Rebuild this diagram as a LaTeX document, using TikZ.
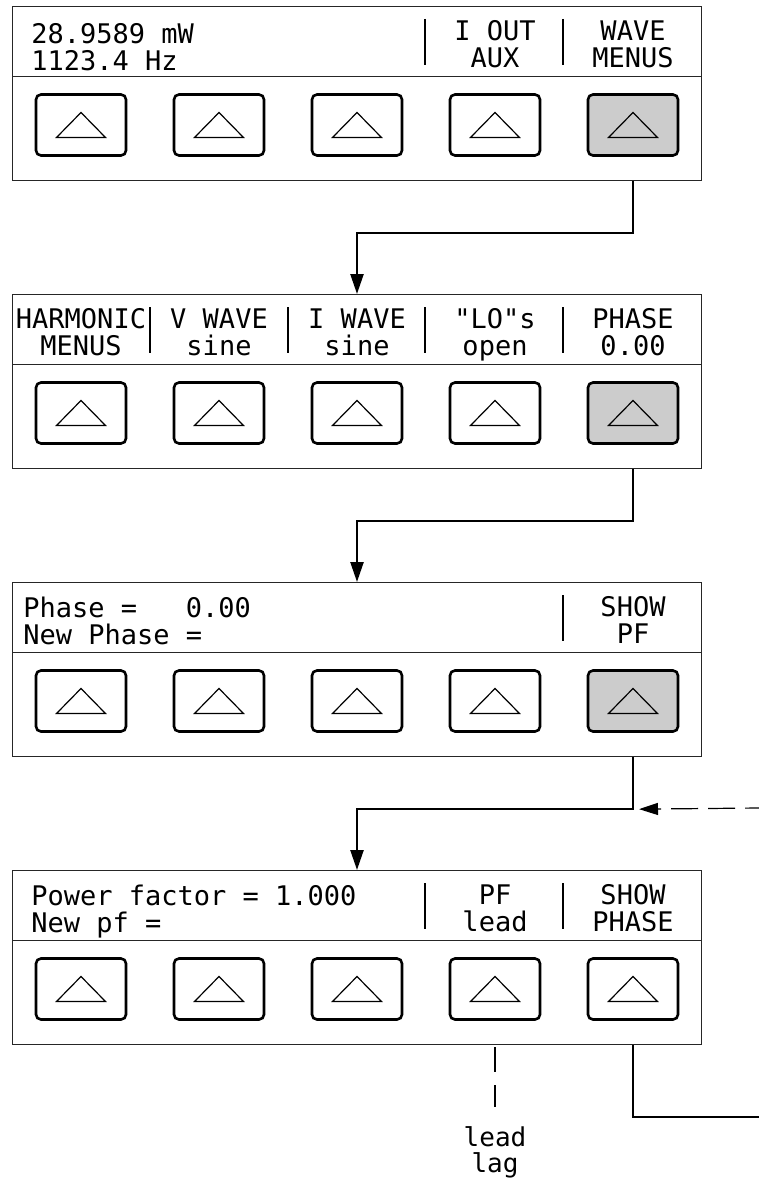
\documentclass[tikz,border=0pt]{standalone}
\usepackage{fontspec}
\newfontfamily\lcdfont{DejaVu Sans Mono}
\usetikzlibrary{arrows.meta}

\begin{document}
\begin{tikzpicture}[x=1pt, y=-1pt, node distance=138pt, thick,
    display/.style={draw=black!85, line width=1.2pt, minimum width=689pt, minimum height=70pt, inner sep=0pt},
    keypad/.style={draw=black!85, line width=1.2pt, minimum width=689pt, minimum height=104pt, inner sep=0pt},
    key/.style={draw, line width=2.6pt, rounded corners=5pt, minimum width=90pt, minimum height=61pt, inner sep=0pt,
        path picture={\draw[line width=1.2pt, sharp corners] ([shift={(-24.5,12.5)}]path picture bounding box.center) -- ++(49,0) -- ++(-24.5,-25) -- cycle;}},
    pressed/.style={key, fill=black!20},
    readout/.style={font=\lcdfont\fontsize{27pt}{27pt}\selectfont, anchor=north west, inner sep=0pt, align=left},
    softlabel/.style={font=\lcdfont\fontsize{27pt}{27pt}\selectfont, anchor=north, inner sep=0pt, align=center},
    bar/.style={line width=2.2pt},
    flow/.style={line width=2.4pt, -{Triangle[length=20pt, width=13pt]}},
    wire/.style={line width=1.2pt},
    loopback/.style={line width=1.2pt, dash pattern=on 27pt off 10pt, dash phase=13pt, shorten >=6pt, -{Triangle[length=19pt, width=12pt]}}]
    \useasboundingbox (0,0) rectangle (759,1182);

    % Panels
    \node[display, anchor=north west] (p1disp) at (12,6) {};
    \node[keypad, node distance=87pt, below of=p1disp] (p1keys) {};
    \node[display, node distance=201pt, below of=p1keys] (p2disp) {};
    \node[keypad, node distance=87pt, below of=p2disp] (p2keys) {};
    \node[display, node distance=201pt, below of=p2keys] (p3disp) {};
    \node[keypad, node distance=87pt, below of=p3disp] (p3keys) {};
    \node[display, node distance=201pt, below of=p3keys] (p4disp) {};
    \node[keypad, node distance=87pt, below of=p4disp] (p4keys) {};

    % Soft keys
    \node[key] (p1k1) at (81,125) {};
    \node[key, right of=p1k1] (p1k2) {};
    \node[key, right of=p1k2] (p1k3) {};
    \node[key, right of=p1k3] (p1k4) {};
    \node[pressed, right of=p1k4] (p1k5) {};

    \node[key] (p2k1) at (81,413) {};
    \node[key, right of=p2k1] (p2k2) {};
    \node[key, right of=p2k2] (p2k3) {};
    \node[key, right of=p2k3] (p2k4) {};
    \node[pressed, right of=p2k4] (p2k5) {};

    \node[key] (p3k1) at (81,701) {};
    \node[key, right of=p3k1] (p3k2) {};
    \node[key, right of=p3k2] (p3k3) {};
    \node[key, right of=p3k3] (p3k4) {};
    \node[pressed, right of=p3k4] (p3k5) {};

    \node[key] (p4k1) at (81,989) {};
    \node[key, right of=p4k1] (p4k2) {};
    \node[key, right of=p4k2] (p4k3) {};
    \node[key, right of=p4k3] (p4k4) {};
    \node[key, right of=p4k4] (p4k5) {};

    % Display texts
    \node[readout] (p1read) at (31,23) {28.9589 mW\\1123.4 Hz};
    \node[softlabel] (p1iout) at (495,20) {I OUT\\AUX};
    \node[softlabel] (p1wave) at (633,20) {WAVE\\MENUS};

    \node[softlabel] (p2harm) at (81,308) {HARMONIC\\MENUS};
    \node[softlabel] (p2vwave) at (219,308) {V WAVE\\sine};
    \node[softlabel] (p2iwave) at (357,308) {I WAVE\\sine};
    \node[softlabel] (p2lo) at (495,308) {"LO"s\\open};
    \node[softlabel] (p2phase) at (633,308) {PHASE\\0.00};

    \node[readout] (p3read) at (23,597) {Phase =\ \ \ 0.00\\New Phase =};
    \node[softlabel] (p3show) at (633,596) {SHOW\\PF};

    \node[readout] (p4read) at (31,885) {Power factor = 1.000\\New pf =};
    \node[softlabel] (p4pf) at (495,884) {PF\\lead};
    \node[softlabel] (p4show) at (633,884) {SHOW\\PHASE};

    \node[softlabel, font=\lcdfont\fontsize{26pt}{26pt}\selectfont] (leadlag) at (495,1126) {lead\\lag};

    % Separators
    \draw[bar] (425,19) -- (425,65);
    \draw[bar] (563,19) -- (563,65);
    \draw[bar] (150,307) -- (150,353);
    \draw[bar] (288,307) -- (288,353);
    \draw[bar] (425,307) -- (425,353);
    \draw[bar] (563,307) -- (563,353);
    \draw[bar] (563,595) -- (563,641);
    \draw[bar] (425,883) -- (425,929);
    \draw[bar] (563,883) -- (563,929);

    % Arrows
    \draw[flow] (p1k5 |- p1keys.south) -- ++(0,52) -| (p2k3 |- p2disp.north);
    \draw[flow] (p2k5 |- p2keys.south) -- ++(0,52) -| (p3k3 |- p3disp.north);
    \draw[flow] (p3k5 |- p3keys.south) -- ++(0,52) coordinate (bend3) -| (p4k3 |- p4disp.north);

    \coordinate (back) at (759,808);
    \coordinate (exit) at (759,1117);
    \draw[loopback] (back) -- (bend3);
    \draw[wire] (p4k5 |- p4keys.south) |- (exit);
    \draw[wire, dash pattern=on 25pt off 13pt, shorten <=2pt, shorten >=19pt] (p4k4 |- p4keys.south) -- (leadlag);
\end{tikzpicture}
\end{document}
